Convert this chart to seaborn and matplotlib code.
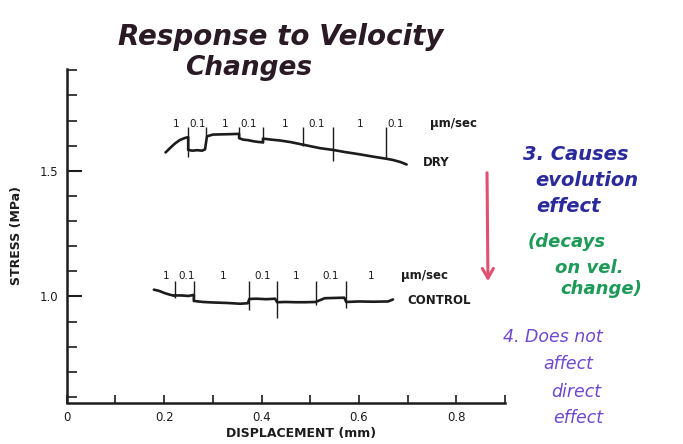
import matplotlib
matplotlib.use("Agg")
import matplotlib.pyplot as plt
import seaborn as sns
import pandas as pd
from matplotlib.patches import FancyArrowPatch

# ---------------- data ----------------
dry_x = [0.203, 0.212, 0.222, 0.232, 0.242, 0.2495, 0.2495, 0.258, 0.268, 0.278, 0.284,
         0.288, 0.30, 0.32, 0.34, 0.354, 0.354, 0.362, 0.372, 0.382, 0.392, 0.403,
         0.403, 0.42, 0.44, 0.46, 0.485, 0.50, 0.52, 0.547, 0.57, 0.60, 0.63, 0.656,
         0.67, 0.685, 0.698]
dry_y = [1.573, 1.590, 1.608, 1.622, 1.630, 1.634, 1.583, 1.580, 1.582, 1.580, 1.585,
         1.637, 1.644, 1.645, 1.646, 1.647, 1.630, 1.624, 1.622, 1.618, 1.615, 1.613,
         1.628, 1.624, 1.620, 1.614, 1.604, 1.598, 1.590, 1.583, 1.575, 1.566, 1.556, 1.548,
         1.543, 1.535, 1.525]

ctl_x = [0.179, 0.19, 0.20, 0.21, 0.222, 0.222, 0.235, 0.25, 0.261, 0.261, 0.28, 0.30,
         0.33, 0.356, 0.372, 0.375, 0.39, 0.41, 0.428, 0.432, 0.45, 0.47, 0.49, 0.511,
         0.53, 0.55, 0.57, 0.574, 0.60, 0.63, 0.66, 0.670]
ctl_y = [1.027, 1.022, 1.014, 1.008, 1.002, 1.004, 1.004, 1.002, 1.006, 0.982, 0.978, 0.976,
         0.974, 0.971, 0.973, 0.990, 0.991, 0.989, 0.991, 0.977, 0.978, 0.977, 0.977, 0.978,
         0.993, 0.994, 0.995, 0.978, 0.980, 0.979, 0.980, 0.988]

# velocity-change marker lines (x, top, bottom)
dry_mark_x = [0.2495, 0.287, 0.354, 0.403, 0.485, 0.547, 0.656]
dry_mark_top = [1.676, 1.673, 1.676, 1.676, 1.673, 1.676, 1.676]
dry_mark_bot = [1.554, 1.637, 1.630, 1.612, 1.600, 1.540, 1.548]

ctl_mark_x = [0.222, 0.261, 0.375, 0.432, 0.511, 0.574]
ctl_mark_top = [1.060, 1.060, 1.060, 1.060, 1.060, 1.060]
ctl_mark_bot = [0.993, 0.982, 0.947, 0.914, 0.965, 0.955]

dry_label_x = [0.224, 0.268, 0.325, 0.374, 0.449, 0.514, 0.602, 0.675]
dry_labels = ["1", "0.1", "1", "0.1", "1", "0.1", "1", "0.1"]
ctl_label_x = [0.204, 0.246, 0.321, 0.402, 0.472, 0.541, 0.626]
ctl_labels = ["1", "0.1", "1", "0.1", "1", "0.1", "1"]

x_ticks = [0, 0.2, 0.4, 0.6, 0.8]
x_tick_labels = ["0", "0.2", "0.4", "0.6", "0.8"]
y_ticks = [1.0, 1.5]
y_tick_labels = ["1.0", "1.5"]

# ---------------- figure ----------------
sns.set_style("ticks")
plt.rcParams["font.family"] = ["DejaVu Sans"]

fig = plt.figure(figsize=(6.83, 4.44), dpi=100)
ax = fig.add_axes([66.7 / 683, 1 - 402.5 / 444, (505 - 66.7) / 683, (402.5 - 69) / 444])

ink = "#1c1c1c"
dry = pd.DataFrame({"x": dry_x, "y": dry_y})
ctl = pd.DataFrame({"x": ctl_x, "y": ctl_y})
sns.lineplot(data=dry, x="x", y="y", ax=ax, sort=False, estimator=None, color=ink, lw=1.9)
sns.lineplot(data=ctl, x="x", y="y", ax=ax, sort=False, estimator=None, color=ink, lw=1.9)
ax.vlines(dry_mark_x, dry_mark_bot, dry_mark_top, color=ink, lw=1.0)
ax.vlines(ctl_mark_x, ctl_mark_bot, ctl_mark_top, color=ink, lw=1.0)

for xv, t in zip(dry_label_x, dry_labels):
    ax.text(xv, 1.687, t, ha="center", va="center", fontsize=7.5, color=ink)
for xv, t in zip(ctl_label_x, ctl_labels):
    ax.text(xv, 1.082, t, ha="center", va="center", fontsize=7.5, color=ink)
ax.text(0.745, 1.687, "\u03bcm/sec", ha="left", va="center", fontsize=8.5, color=ink, fontweight="bold")
ax.text(0.687, 1.082, "\u03bcm/sec", ha="left", va="center", fontsize=8.5, color=ink, fontweight="bold")
ax.text(0.732, 1.531, "DRY", ha="left", va="center", fontsize=8.5, color=ink, fontweight="bold")
ax.text(0.700, 0.984, "CONTROL", ha="left", va="center", fontsize=8.5, color=ink, fontweight="bold")

ax.set_xlim(0, 0.9)
ax.set_ylim(0.578, 1.905)
ax.set_xticks(x_ticks)
ax.set_xticklabels(x_tick_labels, fontsize=8.5)
ax.set_xticks([0.1, 0.3, 0.5, 0.7, 0.9], minor=True)
ax.set_yticks(y_ticks)
ax.set_yticklabels(y_tick_labels, fontsize=8.5)
ax.set_yticks([0.6, 0.7, 0.8, 0.9, 1.1, 1.2, 1.3, 1.4, 1.6, 1.7, 1.8, 1.9], minor=True)
ax.tick_params(axis="y", which="major", direction="in", length=11, width=1.5, pad=6, colors=ink)
ax.tick_params(axis="y", which="minor", direction="in", length=7, width=1.2, colors=ink)
ax.tick_params(axis="x", which="both", direction="in", length=6, width=1.2, pad=6, colors=ink)
for s in ["top", "right"]:
    ax.spines[s].set_visible(False)
for s in ["left", "bottom"]:
    ax.spines[s].set_linewidth(1.8)
    ax.spines[s].set_color(ink)
ax.set_xlabel("DISPLACEMENT (mm)", fontsize=9, fontweight="bold", color=ink)
ax.set_ylabel("STRESS (MPa)", fontsize=9, fontweight="bold", color=ink)
ax.xaxis.set_label_coords(0.535, -0.073)
ax.yaxis.set_label_coords(-0.10, 0.5)

# ---------------- handwritten annotations ----------------
def ftxt(x, y, s, color, size, weight="bold"):
    fig.text(x / 683, 1 - y / 444, s, color=color, fontsize=size, fontweight=weight,
             fontstyle="italic", ha="left", va="center")

title_c = "#2a1a26"
ftxt(118, 37, "Response to Velocity", title_c, 20)
ftxt(185, 68, "Changes", title_c, 19)

blue = "#2a2a9c"
ftxt(523, 155, "3. Causes", blue, 14)
ftxt(535, 181, "evolution", blue, 14)
ftxt(536, 206, "effect", blue, 14)
green = "#1e9a58"
ftxt(528, 242, "(decays", green, 13)
ftxt(555, 268, "on vel.", green, 13)
ftxt(560, 289, "change)", green, 13)
purple = "#7048d0"
ftxt(503, 337, "4. Does not", purple, 12.5, "normal")
ftxt(543, 364, "affect", purple, 12.5, "normal")
ftxt(551, 392, "direct", purple, 12.5, "normal")
ftxt(553, 418, "effect", purple, 12.5, "normal")

arrow = FancyArrowPatch((487 / 683, 1 - 170 / 444), (488 / 683, 1 - 284 / 444),
                        transform=fig.transFigure, arrowstyle="->,head_length=7,head_width=4",
                        color="#e05070", lw=2.2, mutation_scale=1)
fig.patches.append(arrow)

fig.savefig("out.png", dpi=100)
